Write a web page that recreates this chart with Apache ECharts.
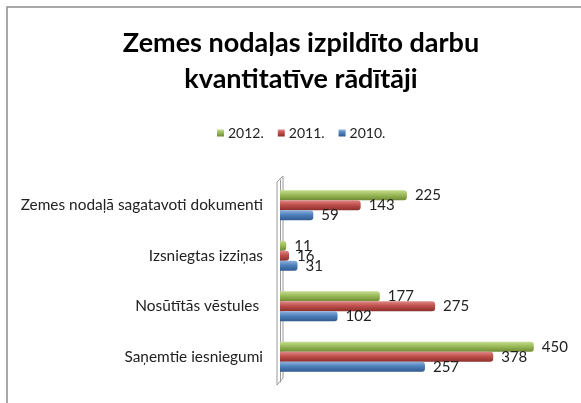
<!DOCTYPE html>
<html>
<head>
<meta charset="utf-8">
<script src="https://cdn.jsdelivr.net/npm/echarts@6/dist/echarts.min.js"></script>
<style>
  html, body { margin: 0; padding: 0; background: #fff; }
  #chart { width: 581px; height: 403px; }
</style>
</head>
<body>
<div id="chart"></div>
<script>
var categories = ['Zemes nodaļā sagatavoti dokumenti', 'Izsniegtas izziņas', 'Nosūtītās vēstules ', 'Saņemtie iesniegumi'];
var years = ['2012.', '2011.', '2010.'];
var data2012 = [225, 11, 177, 450];
var data2011 = [143, 16, 275, 378];
var data2010 = [59, 31, 102, 257];

// cylinder look: light top, dark bottom
function tube(light, mid, dark) {
    return new echarts.graphic.LinearGradient(0, 0, 0, 1, [
        { offset: 0, color: light },
        { offset: 0.45, color: mid },
        { offset: 1, color: dark }
    ]);
}

var chart = echarts.init(document.getElementById('chart'));

function makeSeries(name, data, light, mid, dark) {
    return {
        name: name,
        type: 'bar',
        data: data,
        barWidth: 10,
        barGap: '0%',
        itemStyle: {
            color: tube(light, mid, dark),
            borderRadius: [0, 3, 3, 0]
        },
        label: {
            show: true,
            position: 'right',
            distance: 8,
            color: '#222',
            fontFamily: 'Lato',
            fontSize: 15
        }
    };
}

var option = {
    animation: false,
    textStyle: { fontFamily: 'Lato' },
    title: {
        text: 'Zemes nodaļas izpildīto darbu\nkvantitatīve rādītāji',
        left: 296,
        textAlign: 'center',
        top: 20,
        textStyle: {
            fontFamily: 'Lato',
            fontWeight: 'bold',
            fontSize: 27,
            lineHeight: 36,
            color: '#000'
        }
    },
    legend: {
        data: years,
        top: 121,
        left: 212,
        itemWidth: 7,
        itemHeight: 7,
        itemGap: 14,
        icon: 'rect',
        textStyle: { fontFamily: 'Lato', fontSize: 14, color: '#222', padding: [0, 0, 0, -1] }
    },
    grid: {
        left: 280,
        right: 19,
        top: 180,
        bottom: 21
    },
    xAxis: {
        type: 'value',
        min: 0,
        max: 500,
        show: false
    },
    yAxis: {
        type: 'category',
        data: categories,
        inverse: true,
        axisTick: { show: false },
        axisLine: { show: true, lineStyle: { color: '#999', width: 1 } },
        axisLabel: {
            color: '#222',
            fontFamily: 'Lato',
            fontSize: 15.4,
            margin: 17
        }
    },
    graphic: [
        {
            type: 'rect',
            shape: { x: 7, y: 7, width: 600, height: 420 },
            style: { fill: 'none', stroke: '#8c8c8c', lineWidth: 1.5 },
            silent: true
        },
        {
            type: 'polyline',
            shape: { points: [[277, 182], [283, 176], [283, 378], [277, 385], [277, 182]] },
            style: { fill: 'none', stroke: '#999', lineWidth: 1 },
            silent: true
        }
    ],
    series: [
        makeSeries('2012.', data2012, '#c6dc8e', '#9bbb59', '#6e8a34'),
        makeSeries('2011.', data2011, '#e08986', '#c0504d', '#8c2f2c'),
        makeSeries('2010.', data2010, '#8fb2de', '#4f81bd', '#2f5a8e')
    ]
};

chart.setOption(option);
</script>
</body>
</html>
